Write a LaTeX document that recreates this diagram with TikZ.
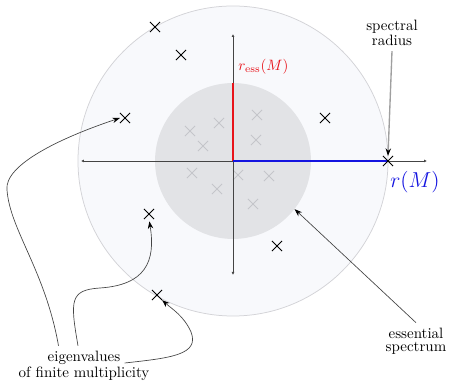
\documentclass[tikz,border=0pt]{standalone}
\usepackage{tikz}
\usetikzlibrary{arrows.meta,positioning,shapes.misc}

\definecolor{discfill}{HTML}{F8F9FC}
\definecolor{discline}{HTML}{D3D3D7}
\definecolor{essfill}{HTML}{E2E3E6}
\definecolor{crossgray}{HTML}{C4C5CA}
\definecolor{axisgray}{HTML}{444444}
\definecolor{essred}{HTML}{E8141B}
\definecolor{radblue}{HTML}{1414E0}

\begin{document}
\begin{tikzpicture}[x=0.667pt,y=-0.667pt,
  disc/.style={circle,inner sep=0pt},
  eig/.style={cross out,draw,line width=0.6pt,minimum size=6.2pt,inner sep=0pt},
  faint/.style={cross out,draw=crossgray,line width=0.5pt,minimum size=6.2pt,inner sep=0pt},
  axis/.style={draw=axisgray,line width=0.6pt,{Latex[length=2pt,width=2pt]}-{Latex[length=2pt,width=2pt]}},
  note/.style={align=center,font=\normalsize},
  pointer/.style={draw=axisgray,line width=0.45pt,-{Stealth[length=5pt,width=3.6pt,color=black]}}
]
\useasboundingbox (0,0) rectangle (458,382);

% discs
\node[disc,draw=discline,fill=discfill,line width=0.5pt,minimum size=206.8pt] (spec) at (233,161) {};
\node[disc,fill=essfill,minimum size=104pt] (ess) at (233,161) {};
\coordinate (o) at (233,161);

% eigenvalues inside the essential spectrum
\node[faint] (f1) at (190,131) {};
\node[faint] (f2) at (219,123) {};
\node[faint] (f3) at (203,146) {};
\node[faint] (f4) at (257,115) {};
\node[faint] (f5) at (256,140) {};
\node[faint] (f6) at (192,173) {};
\node[faint] (f7) at (217,189) {};
\node[faint] (f8) at (238,175) {};
\node[faint] (f9) at (269,176) {};
\node[faint] (f10) at (253,204) {};

% axes and radii
\draw[axis] (81,161) -- (427,161);
\draw[axis] (233,275) -- (233,34);
\draw[essred,line width=1pt] (o) -- (ess.north);
\draw[radblue,line width=1.2pt] (o) -- (388,161);

% isolated eigenvalues
\node[eig] (ev1) at (155,27) {};
\node[eig] (ev2) at (181,55) {};
\node[eig] (ev3) at (125,118) {};
\node[eig] (ev4) at (325,118) {};
\node[eig] (ev5) at (388,161) {};
\node[eig] (ev6) at (149,214) {};
\node[eig] (ev7) at (277,246) {};
\node[eig] (ev8) at (157,295) {};

% labels
\node[essred,anchor=west] (ressl) at (233,67) {$r_{\mathrm{ess}}(M)$};
\node[radblue,font=\Large] (rl) at (415,182) {$r(M)$};
\node[note] (sr) at (392,33) {spectral\\[-2pt]radius};
\node[note] (es) at (416,341) {essential\\[-3.5pt]spectrum};
\node[note] (fin) at (84,366) {eigenvalues\\[-1pt]of finite multiplicity};

% pointers
\draw[pointer,draw=gray!75,line width=0.9pt] (sr.south) -- (ev5.north);
\draw[pointer] (es.north) -- (ess.-38);
\draw[pointer] ([xshift=-17pt]fin.north) .. controls (45,270) and (10,230) .. (7,190)
  .. controls (4,165) and (60,138) .. (ev3.west);
\draw[pointer,shorten >=1.5pt] ([xshift=-4pt]fin.north) .. controls (70,300) and (70,290) .. (100,288)
  .. controls (145,285) and (156,262) .. (ev6.south);
\draw[pointer] ([xshift=-20pt,yshift=2pt]fin.east) .. controls (170,358) and (200,355) .. (191,332)
  .. controls (184,316) and (172,309) .. (ev8.south east);
\end{tikzpicture}
\end{document}
